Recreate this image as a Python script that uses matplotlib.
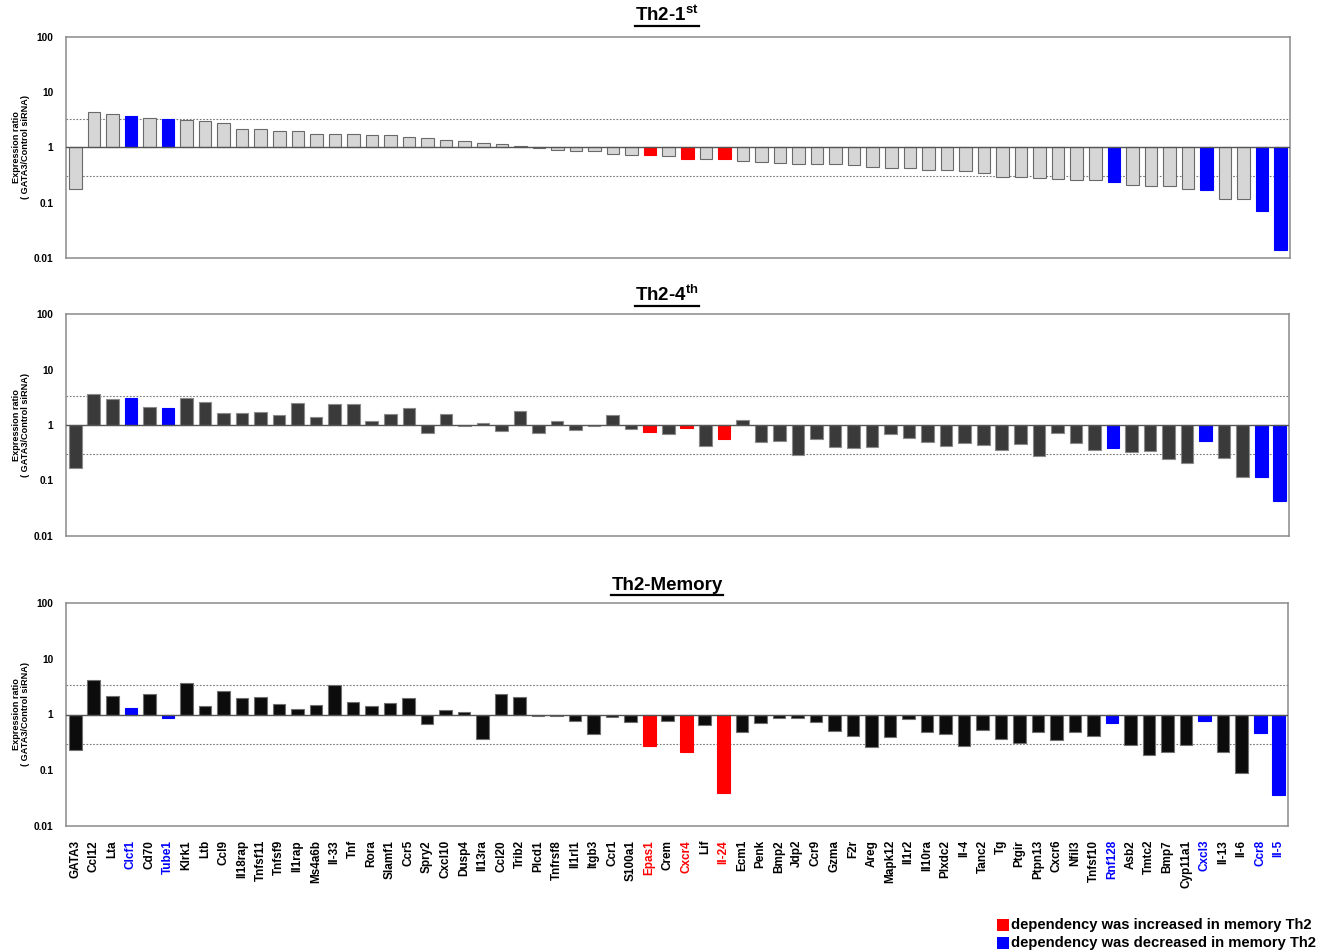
import matplotlib
matplotlib.use("Agg")
import matplotlib.pyplot as plt
import numpy as np
from matplotlib.lines import Line2D
from matplotlib.patches import Rectangle

ARIAL = "Liberation Sans"
plt.rcParams['mathtext.fontset'] = 'custom'
plt.rcParams['mathtext.rm'] = ARIAL
plt.rcParams['mathtext.bf'] = ARIAL + ':bold'

genes = ["GATA3", "Ccl12", "Lta", "Clcf1", "Cd70", "Tube1", "Klrk1", "Ltb", "Ccl9",
         "Il18rap", "Tnfsf11", "Tnfsf9", "Il1rap", "Ms4a6b", "Il-33", "Tnf", "Rora",
         "Slamf1", "Ccr5", "Spry2", "Cxcl10", "Dusp4", "Il13ra", "Ccl20", "Trib2",
         "Plcd1", "Tnfrsf8", "Il1rl1", "Itgb3", "Ccr1", "S100a1", "Epas1", "Crem",
         "Cxcr4", "Lif", "Il-24", "Ecm1", "Penk", "Bmp2", "Jdp2", "Ccr9", "Gzma",
         "F2r", "Areg", "Mapk12", "Il1r2", "Il10ra", "Plxdc2", "Il-4", "Tanc2", "Tg",
         "Ptgir", "Ptpn13", "Cxcr6", "Nfil3", "Tnfsf10", "Rnf128", "Asb2", "Tmtc2",
         "Bmp7", "Cyp11a1", "Cxcl3", "Il-13", "Il-6", "Ccr8", "Il-5"]

increased_in_memory = ["Epas1", "Cxcr4", "Il-24"]
decreased_in_memory = ["Clcf1", "Tube1", "Rnf128", "Cxcl3", "Ccr8", "Il-5"]

th2_1st = [0.18, 4.4, 4.0, 3.7, 3.4, 3.26, 3.17, 3.04, 2.76,
           2.18, 2.15, 2.03, 2.0, 1.77, 1.74, 1.74, 1.67,
           1.65, 1.56, 1.46, 1.34, 1.32, 1.2, 1.15, 1.07,
           0.97, 0.91, 0.87, 0.86, 0.76, 0.73, 0.73, 0.71,
           0.63, 0.63, 0.61, 0.58, 0.54, 0.53, 0.51, 0.51, 0.50,
           0.48, 0.45, 0.43, 0.42, 0.39, 0.39, 0.38, 0.35, 0.29,
           0.29, 0.275, 0.267, 0.26, 0.26, 0.24, 0.21, 0.205,
           0.205, 0.176, 0.17, 0.115, 0.115, 0.07, 0.0137]

th2_4th = [0.17, 3.62, 2.94, 3.1, 2.08, 2.0, 3.1, 2.56, 1.64,
           1.67, 1.71, 1.51, 2.46, 1.39, 2.36, 2.38, 1.18,
           1.58, 2.0, 0.71, 1.56, 0.95, 1.1, 0.78, 1.76,
           0.73, 1.18, 0.81, 0.95, 1.49, 0.84, 0.75, 0.69,
           0.9, 0.41, 0.55, 1.23, 0.49, 0.51, 0.29, 0.55, 0.40,
           0.385, 0.40, 0.68, 0.59, 0.49, 0.41, 0.47, 0.44, 0.36,
           0.46, 0.28, 0.73, 0.47, 0.35, 0.385, 0.33, 0.34,
           0.24, 0.21, 0.52, 0.25, 0.114, 0.114, 0.043]

th2_memory = [0.23, 4.13, 2.19, 1.3, 2.35, 0.88, 3.7, 1.41, 2.66,
              1.99, 2.02, 1.55, 1.26, 1.49, 3.45, 1.66, 1.45,
              1.64, 1.96, 0.67, 1.21, 1.1, 0.37, 2.35, 2.02,
              0.95, 0.95, 0.76, 0.44, 0.9, 0.72, 0.27, 0.78,
              0.21, 0.66, 0.039, 0.49, 0.70, 0.88, 0.87, 0.74, 0.51,
              0.41, 0.26, 0.40, 0.84, 0.48, 0.44, 0.27, 0.53, 0.36,
              0.31, 0.49, 0.35, 0.48, 0.42, 0.70, 0.28, 0.19,
              0.21, 0.28, 0.75, 0.21, 0.091, 0.46, 0.036]

panel_titles = [r"Th2-1$^{\mathbf{st}}$", r"Th2-4$^{\mathbf{th}}$", "Th2-Memory"]
y_ticks = [0.01, 0.1, 1, 10, 100]
y_ticklabels = ["0.01", "0.1", "1", "10", "100"]
threshold_hi = 1 / 0.3
threshold_lo = 0.3

RED = "#ff0000"
BLUE = "#0000ff"
panel_fill = ["#d6d6d6", "#3a3a3a", "#0c0c0c"]
panel_edge = ["#6a6a6a", "#8a8a8a", "#707070"]

W, H = 1330, 952
fig = plt.figure(figsize=(W / 100, H / 100), dpi=100)

# axes boxes in pixel units: (left, top, right, bottom)
boxes = [(66, 37, 1290, 258), (66, 314, 1289, 536), (66, 603, 1288, 826)]
title_y = [15, 295, 585]


def label_color(g):
    if g in increased_in_memory:
        return RED
    if g in decreased_in_memory:
        return BLUE
    return "black"


x = np.arange(len(genes))
series = [th2_1st, th2_4th, th2_memory]
for i, (vals, box) in enumerate(zip(series, boxes)):
    l, t, r, b = box
    ax = fig.add_axes([l / W, 1 - b / H, (r - l) / W, (b - t) / H])
    ax.set_yscale("log")
    ax.set_ylim(0.01, 100)
    ax.set_xlim(-0.5, len(genes) - 0.5)
    vals = np.asarray(vals, dtype=float)
    fills, edges = [], []
    for g in genes:
        c = label_color(g)
        if c == "black":
            fills.append(panel_fill[i])
            edges.append(panel_edge[i])
        else:
            fills.append(c)
            edges.append(c)
    ax.bar(x, vals - 1, bottom=1, width=0.68, color=fills, edgecolor=edges,
           linewidth=0.8, zorder=3)
    ax.axhline(1, color="#555555", lw=1.0, zorder=4)
    for yv in (threshold_hi, threshold_lo):
        ax.axhline(yv, color="#777777", lw=0.8, ls=(0, (1.5, 1.5)), zorder=2)
    for s in ax.spines.values():
        s.set_color("#8a8a8a")
        s.set_linewidth(1.1)
    ax.set_yticks(y_ticks)
    ax.set_yticklabels(y_ticklabels, fontfamily=ARIAL, fontweight="bold",
                       fontsize=7.3)
    ax.yaxis.set_minor_locator(matplotlib.ticker.NullLocator())
    ax.tick_params(axis="y", length=0, pad=9)
    ax.tick_params(axis="x", length=0)
    ax.set_ylabel("Expression ratio\n( GATA3/Control siRNA)", fontfamily=ARIAL,
                  fontweight="bold", fontsize=6.6, linespacing=1.0)
    ax.yaxis.set_label_coords(-36 / (r - l), 0.5)
    if i < 2:
        ax.set_xticks([])
    else:
        ax.set_xticks(x)
        ax.set_xticklabels(genes, rotation=90, fontfamily=ARIAL, fontweight="bold",
                           fontsize=8.5, va="top", ha="center")
        ax.tick_params(axis="x", pad=10)
        for lbl, g in zip(ax.get_xticklabels(), genes):
            lbl.set_color(label_color(g))

titles = []
for ty, tt in zip(title_y, panel_titles):
    t = fig.text(0.5015, 1 - ty / H, tt, ha="center", va="center",
                 fontfamily=ARIAL, fontweight="bold", fontsize=13.5)
    titles.append(t)

# legend for label colours
legend_rows = [(RED, "dependency was increased in memory Th2", 925),
               (BLUE, "dependency was decreased in memory Th2", 943)]
legend_texts = []
for col, txt, yy in legend_rows:
    fig.add_artist(Rectangle((997 / W, 1 - (yy + 6) / H), 12 / W, 12 / H,
                             transform=fig.transFigure, facecolor=col,
                             edgecolor="none"))
    legend_texts.append(fig.text(1011 / W, 1 - yy / H, txt, ha="left",
                                 va="center", fontfamily=ARIAL,
                                 fontweight="bold", fontsize=11))

fig.canvas.draw()
renderer = fig.canvas.get_renderer()
# one common legend font size, chosen so the first row fits its slot
w0 = legend_texts[0].get_window_extent(renderer).width
legend_fs = legend_texts[0].get_fontsize() * 302.0 / w0
for lt in legend_texts:
    lt.set_fontsize(legend_fs)
fig.canvas.draw()

inv = fig.transFigure.inverted()
for t in titles:
    bb = t.get_window_extent(renderer).transformed(inv)
    yl = bb.y0 - 1.0 / H
    fig.add_artist(Line2D([bb.x0, bb.x1], [yl, yl], transform=fig.transFigure,
                          color="black", lw=1.6))

fig.savefig("out.png", dpi=100)
